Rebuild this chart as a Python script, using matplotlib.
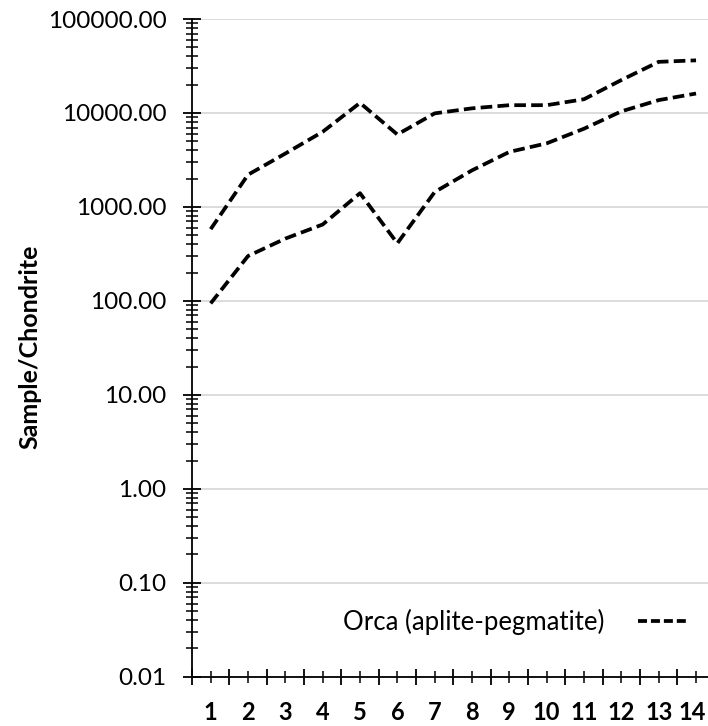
import matplotlib
matplotlib.use("Agg")
import matplotlib.pyplot as plt
import matplotlib.transforms as mtransforms
from matplotlib.lines import Line2D
from matplotlib.ticker import FixedLocator, FuncFormatter, LogLocator, NullFormatter

plt.rcParams['font.family'] = ['Lato', 'DejaVu Sans']

# REE pattern, chondrite normalised
elements = list(range(1, 15))
orca_high = [580, 2200, 3700, 6300, 12800, 5900, 9900, 11200, 12100, 12100, 14000, 22400, 35000, 36300]
orca_low = [94, 300, 460, 650, 1400, 410, 1440, 2450, 3850, 4750, 6800, 10400, 13700, 16100]
series_name = "Orca (aplite-pegmatite)"
ytick_vals = [0.01, 0.1, 1, 10, 100, 1000, 10000, 100000]

fig = plt.figure(figsize=(7.08, 7.26), dpi=100)
ax = fig.add_axes([192 / 708, 49.3 / 726, 522.7 / 708, 657.7 / 726])

dash = (3.1, 1.4)
ax.plot(elements, orca_high, color='black', lw=2.7, dashes=dash)
ax.plot(elements, orca_low, color='black', lw=2.7, dashes=dash)

ax.set_yscale('log')
ax.set_ylim(0.01, 100000)
ax.set_xlim(0.5, 14.5)

ax.yaxis.set_major_locator(FixedLocator(ytick_vals))
ax.yaxis.set_major_formatter(FuncFormatter(lambda v, p: "%.2f" % v))
ax.yaxis.set_minor_locator(LogLocator(base=10, subs=range(2, 10), numticks=20))
ax.yaxis.set_minor_formatter(NullFormatter())

ax.set_xticks(elements)
ax.set_xticklabels([str(e) for e in elements], fontweight='bold')
ax.set_xticks([e + 0.5 for e in [0] + elements], minor=True)

ax.tick_params(axis='y', which='major', direction='inout', length=12.7, width=1.3,
               labelsize=17.5, pad=12)
ax.tick_params(axis='y', which='minor', direction='inout', length=8.6, width=1.1)
ax.tick_params(axis='x', which='major', direction='inout', length=8.6, width=1.1,
               labelsize=17, pad=13)
ax.tick_params(axis='x', which='minor', direction='inout', length=12.2, width=1.3)

# last label sits on the figure edge, pull it in a little
last = ax.get_xticklabels()[-1]
last.set_transform(last.get_transform() + mtransforms.ScaledTranslation(-3 / 72, 0, fig.dpi_scale_trans))

ax.grid(True, which='major', axis='y', color='#d9d9d9', lw=1.3)
ax.set_axisbelow(True)
for s in ['top', 'right']:
    ax.spines[s].set_visible(False)
for s in ['left', 'bottom']:
    ax.spines[s].set_linewidth(1.3)
    ax.spines[s].set_zorder(3)

fig.text(30 / 708, 1 - 347 / 726, "Sample/Chondrite", rotation=90, fontsize=18,
         fontweight='bold', ha='center', va='center')

handle = Line2D([], [], color='black', lw=2.7, dashes=(2.4, 1.05))
ax.legend(handles=[handle], labels=[series_name], loc='center right',
          bbox_to_anchor=(689 / 708, 1 - 622 / 726),
          bbox_transform=fig.transFigure, frameon=False, markerfirst=False,
          fontsize=18.5, handlelength=2.0, handletextpad=1.3, borderpad=0, borderaxespad=0)

fig.savefig("out.png", dpi=100)
